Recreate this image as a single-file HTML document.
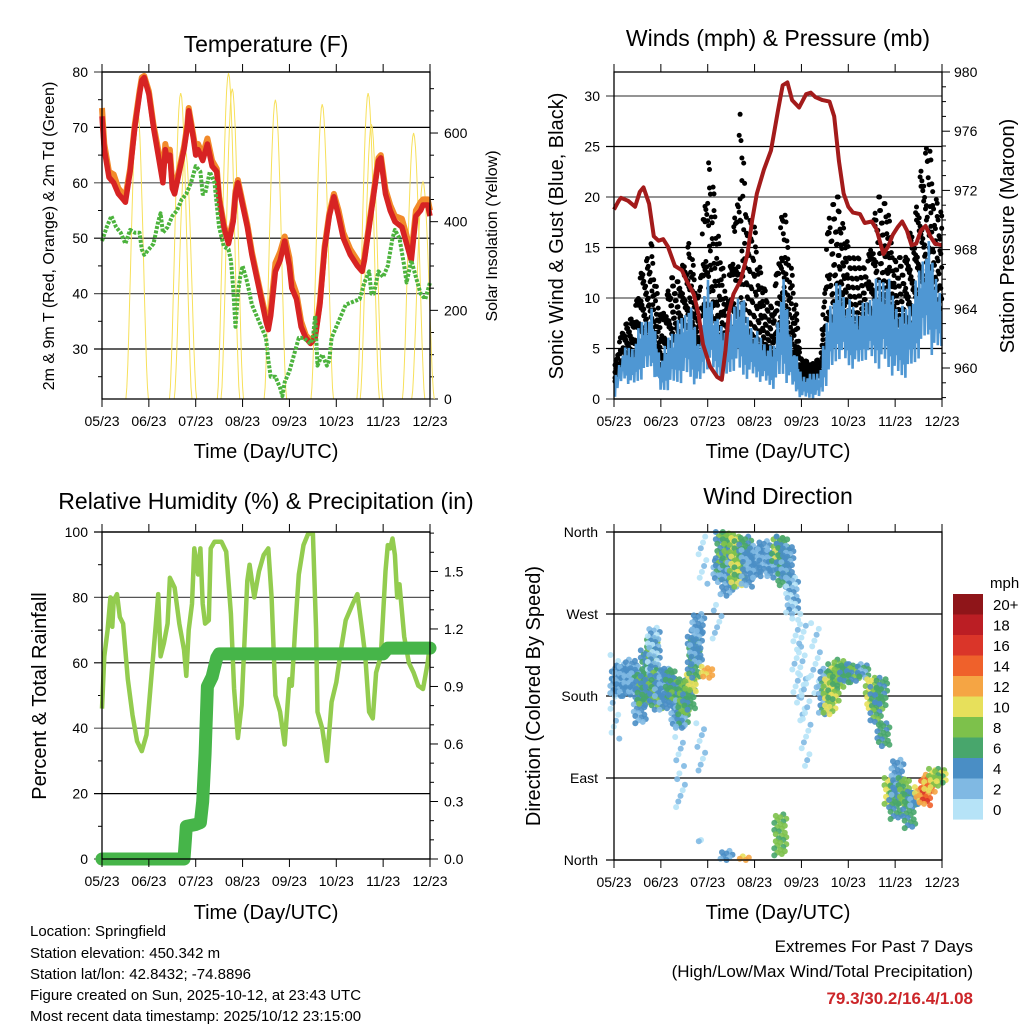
<!DOCTYPE html>
<html><head><meta charset="utf-8"><style>
html,body{margin:0;padding:0;background:#fff;}
svg{display:block;font-family:"Liberation Sans",sans-serif;}
</style></head><body>
<svg id="chart" width="1024" height="1024" viewBox="0 0 1024 1024" xmlns="http://www.w3.org/2000/svg">
<rect x="0" y="0" width="1024" height="1024" fill="#fff"/>
<g id="layer"></g>
<text x="266" y="52" font-size="23" text-anchor="middle">Temperature (F)</text>
<text x="778" y="46" font-size="23" text-anchor="middle">Winds (mph) &amp; Pressure (mb)</text>
<text x="266" y="509" font-size="23" text-anchor="middle">Relative Humidity (%) &amp; Precipitation (in)</text>
<text x="778" y="504" font-size="23" text-anchor="middle">Wind Direction</text>
<text x="266" y="458" font-size="20" text-anchor="middle">Time (Day/UTC)</text>
<text x="778" y="458" font-size="20" text-anchor="middle">Time (Day/UTC)</text>
<text x="266" y="919" font-size="20" text-anchor="middle">Time (Day/UTC)</text>
<text x="778" y="919" font-size="20" text-anchor="middle">Time (Day/UTC)</text>
<text transform="translate(54,236) rotate(-90)" font-size="16" text-anchor="middle">2m &amp; 9m T (Red, Orange) &amp; 2m Td (Green)</text>
<text transform="translate(497,236) rotate(-90)" font-size="16" text-anchor="middle">Solar Insolation (Yellow)</text>
<text transform="translate(563,236) rotate(-90)" font-size="20" text-anchor="middle">Sonic Wind &amp; Gust (Blue, Black)</text>
<text transform="translate(1014,236) rotate(-90)" font-size="20" text-anchor="middle">Station Pressure (Maroon)</text>
<text transform="translate(46,696) rotate(-90)" font-size="20" text-anchor="middle">Percent &amp; Total Rainfall</text>
<text transform="translate(540,696) rotate(-90)" font-size="20" text-anchor="middle">Direction (Colored By Speed)</text>
<g font-size="15">
<text x="30" y="936">Location: Springfield</text>
<text x="30" y="958">Station elevation: 450.342 m</text>
<text x="30" y="979">Station lat/lon: 42.8432; -74.8896</text>
<text x="30" y="1000">Figure created on Sun, 2025-10-12, at 23:43 UTC</text>
<text x="30" y="1021">Most recent data timestamp: 2025/10/12 23:15:00</text>
</g>
<text x="973" y="952" font-size="17" text-anchor="end">Extremes For Past 7 Days</text>
<text x="973" y="977" font-size="17" text-anchor="end">(High/Low/Max Wind/Total Precipitation)</text>
<text x="973" y="1004" font-size="17" font-weight="bold" fill="#cc2529" text-anchor="end">79.3/30.2/16.4/1.08</text>
<text x="990" y="588" font-size="15">mph</text>
</svg>
<script>
// ---------- data ----------
const monthLabels = ["05/23","06/23","07/23","08/23","09/23","10/23","11/23","12/23"];
const tempT = [0,0.05,0.15,0.25,0.35,0.45,0.5,0.6,0.7,0.8,0.85,0.9,1.0,1.1,1.2,1.3,1.35,1.4,1.45,1.5,1.55,1.65,1.75,1.82,1.85,1.95,2.0,2.05,2.15,2.25,2.35,2.45,2.5,2.6,2.7,2.8,2.85,2.9,3.0,3.1,3.2,3.3,3.4,3.5,3.55,3.6,3.7,3.8,3.9,4.0,4.05,4.15,4.25,4.35,4.45,4.55,4.65,4.75,4.85,4.95,5.05,5.15,5.3,5.45,5.55,5.6,5.7,5.8,5.9,5.95,6.05,6.15,6.25,6.4,6.5,6.6,6.7,6.8,6.85,6.95,7.0];
const tempRed = [72,66,61,60,58,57,56.5,62,70,76,78.5,79,76,70,65,60,66,64,65,59,58,62,66,70,73,68,65,66,64,67,63,62,57,52,49,53,58,60,56,52,47,43,39,35,33.5,36,44,46,49.5,45,41,39,34,32,31,32,38,48,54,57.5,54,50,47,45,44,46,52,58,64,64.5,58,55,53,52,49,46,54,55,56,56,54];
const tempOrangeOffset = [1.5,1,1,1.5,1,1,1,0.5,0.5,0.5,0.5,0.3,0.5,0.5,1,1,1,1,1,1,1,0.5,0.5,0.5,0.5,0.5,1,1,1,1,1,0.5,0.5,0.5,0.5,0.5,0.5,0.5,0.5,0.5,0.5,0.5,0.5,0.8,1,1,1.5,1.5,0.8,1.5,1.5,1,1,0.5,0.5,0.5,0.5,0.5,0.5,0.5,1,1,1,1,0.5,0.5,0.5,0.5,0.5,0.5,0.8,1,1,1.5,1.5,1,1,1.5,1,1,1];
const tdT = [0,0.1,0.2,0.3,0.4,0.5,0.6,0.7,0.8,0.85,0.9,1.0,1.1,1.2,1.25,1.3,1.4,1.5,1.6,1.7,1.8,1.9,2.0,2.1,2.15,2.2,2.3,2.4,2.5,2.6,2.7,2.75,2.8,2.85,2.9,2.95,3.0,3.1,3.2,3.3,3.4,3.5,3.55,3.6,3.7,3.8,3.85,3.9,4.0,4.1,4.2,4.3,4.45,4.5,4.55,4.6,4.7,4.8,4.85,4.9,5.0,5.1,5.2,5.35,5.5,5.6,5.7,5.75,5.8,5.9,6.0,6.1,6.2,6.25,6.35,6.45,6.5,6.6,6.7,6.8,6.9,7.0];
const tdVal = [49.5,52,54,52,51,49,51.5,51,51,48,47,48,49,53,54.5,51,52,54,55,57,58,60,63,62,58,58,62,60,52,48.5,48,46,41,34,40,43,45,42,38,36,34,32,28,25,25,23,21.5,24,26,29,32,32,31,32,36,27,29,27,28,32,34,36,38,38.5,39,42,44,40,40,44,43,45,50,51.5,50,45,42,46,43,40,39,42];
const solarPeakT = [0.75,1.68,1.78,2.7,2.78,3.7,4.7,5.68,5.75,6.65,6.85];
const solarPeakV = [665,690,560,735,700,675,665,690,620,600,490];
const pressT = [0,0.1,0.15,0.3,0.45,0.55,0.63,0.75,0.85,0.95,1.05,1.15,1.3,1.45,1.55,1.7,1.8,1.9,2.05,2.2,2.3,2.38,2.45,2.55,2.7,2.85,2.95,3.05,3.2,3.35,3.5,3.6,3.7,3.8,3.95,4.1,4.2,4.3,4.45,4.6,4.7,4.8,4.9,5.0,5.1,5.25,5.35,5.5,5.6,5.75,5.85,5.95,6.05,6.15,6.25,6.35,6.45,6.55,6.65,6.75,6.85,7.0];
const pressVal = [970.7,971.3,971.5,971.3,970.9,971.9,972.2,971.1,968.9,968.6,968.7,968.2,966.9,966.6,965.9,965.0,963.7,961.6,960.1,959.4,959.2,961.2,963.7,965.0,965.9,967.7,970.0,971.8,973.4,974.7,977.4,979.1,979.3,978.1,977.6,978.5,978.6,978.3,978.1,978.0,977.0,974.0,971.8,970.9,970.5,970.4,969.8,969.9,969.4,967.7,968.2,969.0,969.5,969.9,969.3,968.3,968.4,969.3,969.6,968.9,968.4,968.3];
const windT = [0,0.2,0.4,0.6,0.8,1.0,1.2,1.4,1.6,1.8,2.0,2.2,2.4,2.6,2.7,2.8,3.0,3.2,3.4,3.6,3.8,4.0,4.2,4.4,4.6,4.8,5.0,5.2,5.4,5.6,5.8,6.0,6.2,6.4,6.6,6.7,6.8,7.0];
const windLow = [0,2,1,2,3,0.5,1,1.5,2,1,3,2,2,3,2,2,2,1.5,1,2,1,0,0,0,2,4,3,3,4,3,3,2,2,3,5,6,4,5];
const windHigh = [2,5,5.5,8,9,4,7,8,10,6,12.5,8,7,10,12,9,7,6,5,12.5,6,2.5,2.5,3,10,12,10,9,10,12,13,10,9,11,15,16,14,11];
const gustHigh = [3,7.5,8,13,15.5,8,12,12,16,10,25,18,10,19,30.5,20,17,11,9,20,13,4,3.5,4,20,20,15,14,13,20,20,14,14,18,24,26.5,22,18];
const rhT = [0,0.05,0.12,0.18,0.22,0.25,0.32,0.38,0.45,0.55,0.65,0.75,0.85,0.95,1.05,1.15,1.2,1.25,1.32,1.4,1.45,1.55,1.65,1.75,1.8,1.85,1.92,1.97,2.05,2.1,2.15,2.2,2.28,2.32,2.4,2.55,2.65,2.75,2.82,2.9,2.98,3.02,3.1,3.15,3.25,3.35,3.45,3.55,3.62,3.7,3.8,3.9,4.0,4.05,4.12,4.2,4.3,4.4,4.5,4.57,4.6,4.7,4.8,4.9,5.0,5.1,5.2,5.35,5.45,5.55,5.62,5.7,5.78,5.85,5.95,6.05,6.1,6.15,6.2,6.25,6.3,6.35,6.45,6.55,6.65,6.75,6.85,6.95,7.0];
const rhVal = [46,62,70,80,71,79,81,74,72,55,44,36,33,38,55,72,81,62,66,72,86,83,72,64,56,70,78,95,87,95,78,72,73,95,97,97,94,75,52,37,47,60,85,90,80,88,93,95,80,50,45,35,55,53,70,87,96,99.5,99.5,70,45,40,30,48,54,64,73,78,81,70,62,45,43,57,62,88,96,95,98,93,80,84,68,60,57,53,52,60,66];
const precipT = [0,1.75,1.78,1.8,2.0,2.1,2.15,2.2,2.25,2.35,2.45,2.5,6.0,6.1,7.0];
const precipVal = [0,0,0.1,0.17,0.18,0.19,0.3,0.55,0.9,0.95,1.05,1.07,1.07,1.1,1.1];
const dirT = [0.02,0.05,0.15,0.25,0.35,0.45,0.5,0.55,0.6,0.7,0.8,0.85,0.9,1.0,1.1,1.2,1.3,1.35,1.4,1.42,1.45,1.5,1.6,1.65,1.7,1.75,1.8,1.85,1.88,1.9,2.0,2.2,2.25,2.3,2.4,2.4,2.45,2.55,2.6,2.7,2.78,2.8,2.85,3.0,3.2,3.4,3.5,3.55,3.6,3.7,3.8,3.9,4.0,4.1,4.3,4.5,4.6,4.7,4.8,4.95,5.1,5.3,5.5,5.6,5.7,5.75,5.9,6.0,6.05,6.2,6.3,6.45,6.55,6.65,6.75,6.85,6.95];
const dirLo = [130,180,185,180,185,185,188,150,170,175,190,200,165,180,165,175,170,145,100,55,145,160,165,185,200,215,250,95,20,300,200,240,305,320,290,0,320,300,300,310,0,330,300,310,315,310,325,5,300,310,270,175,150,100,180,160,160,175,190,195,195,200,165,150,170,125,60,45,70,60,35,60,65,60,75,80,85];
const dirHi = [225,210,215,212,220,212,205,190,205,230,245,255,210,205,210,210,200,170,135,95,185,195,200,205,245,255,270,150,22,355,212,280,330,360,340,10,360,345,355,350,4,355,340,345,350,340,355,50,355,345,310,265,270,200,260,210,200,215,220,215,215,215,200,190,200,150,90,85,110,90,75,75,80,90,95,100,100];
const dirSpd = [1,4,4,4,4,4,5,4,7,6,7,3,7,4,4,6,7,4,2,2,5,8,6,10,6,4,4,2,2,1,12,2,5,7,4,4,8,4,10,9,12,6,4,4,4,4,9,8,6,4,3,1,1,1,1,5,10,9,8,6,7,5,10,7,6,6,10,6,4,8,6,4,12,15,13,10,9];
const cbLabels = ["20+","18","16","14","12","10","8","6","4","2","0"];
const cbColors = ["#8f1519","#bb1e24","#da3529","#ef612b","#f5a544","#e7e05b","#7dc14b","#48a66c","#4a8ec5","#80b9e3","#b6e3f7"];

const NS = "http://www.w3.org/2000/svg";
const layer = document.getElementById("layer");
function mk(tag, attrs, parent) {
  const el = document.createElementNS(NS, tag);
  for (const k in attrs) el.setAttribute(k, attrs[k]);
  (parent || layer).appendChild(el);
  return el;
}
function interp(ts, vs, t) {
  if (t <= ts[0]) return vs[0];
  for (let i = 1; i < ts.length; i++) {
    if (t <= ts[i]) { const f = (t - ts[i-1]) / (ts[i] - ts[i-1]); return vs[i-1] + f * (vs[i] - vs[i-1]); }
  }
  return vs[vs.length - 1];
}
function pathFrom(ts, vs, xf, yf) {
  return ts.map((t, i) => (i ? "L" : "M") + xf(t).toFixed(1) + "," + yf(vs[i]).toFixed(1)).join("");
}
function frame(x0, y0, x1, y1, name) {
  const r = mk("rect", {x:x0, y:y0, width:x1-x0, height:y1-y0, fill:"none", stroke:"#000", "stroke-width":1.3});
  
  
}
function xTicks(x0, x1, yTop, yBot, name) {
  monthLabels.forEach((lab, i) => {
    const x = x0 + i * (x1 - x0) / 7;
    const t1 = mk("line", {x1:x, y1:yBot, x2:x, y2:yBot+8, stroke:"#000", "stroke-width":1});
    
    
    const t2 = mk("line", {x1:x, y1:yTop, x2:x, y2:yTop-8, stroke:"#000", "stroke-width":1});
    
    
    const tx = mk("text", {x:x, y:yBot+27, "font-size":14, "text-anchor":"middle"});
    tx.textContent = lab;
    
    
  });
}
function hGrid(x0, x1, y, color, name) {
  const l = mk("line", {x1:x0-8, y1:y, x2:x1, y2:y, stroke:color, "stroke-width":1.2});
  
  
}
function label(x, y, txt, anchor, size, name) {
  const t = mk("text", {x:x, y:y, "font-size":size, "text-anchor":anchor});
  t.textContent = txt;
  
  
}
function sideTick(x, y, len, name) {
  const l = mk("line", {x1:x, y1:y, x2:x+len, y2:y, stroke:"#000", "stroke-width":1});
  
  
}

// Panel 1
const p1 = {x0:102, x1:430, y0:72, y1:399};
const x1f = t => p1.x0 + t / 7 * (p1.x1 - p1.x0);
const yT = v => p1.y0 + (80 - v) * 5.54;
const yS = v => p1.y1 - v * 0.4433;
[30,40,50,60,70,80].forEach((v, i) => {
  hGrid(p1.x0, p1.x1, yT(v), i % 2 ? "#555" : "#000", "temp-gridline");
  label(p1.x0 - 14, yT(v) + 5, String(v), "end", 14, "temp-y-tick-label");
});
[25,35,45,55,65,75].forEach(v => sideTick(p1.x0 - 4, yT(v), 4, "temp-minor-tick"));
for (let v = 0; v <= 700; v += 50) sideTick(p1.x1, yS(v), v % 200 === 0 ? 8 : 4, "solar-tick");
[0,200,400,600].forEach(v => label(p1.x1 + 14, yS(v) + 5, String(v), "start", 14, "solar-tick-label"));
solarPeakT.forEach((pt, i) => {
  let d = "";
  for (let k = 0; k <= 24; k++) {
    const u = k / 24;
    const t = pt - 0.24 + u * 0.48;
    const v = solarPeakV[i] * Math.pow(Math.sin(Math.PI * u), 1.6);
    d += (k ? "L" : "M") + x1f(t).toFixed(1) + "," + yS(v).toFixed(1);
  }
  const p = mk("path", {d:d, fill:"none", stroke:"#f7e05a", "stroke-width":1});
  
  
});
const orangeVals = tempRed.map((v, i) => v + tempOrangeOffset[i]);
const orangeLine = mk("path", {d:pathFrom(tempT, orangeVals, x1f, yT), fill:"none", stroke:"#f28a2a", "stroke-width":6, "stroke-linejoin":"round"});


const redLine = mk("path", {d:pathFrom(tempT, tempRed, x1f, yT), fill:"none", stroke:"#d72323", "stroke-width":5.5, "stroke-linejoin":"round"});


const tdLine = mk("path", {d:pathFrom(tdT, tdVal, x1f, yT), fill:"none", stroke:"#4cb33d", "stroke-width":4, "stroke-dasharray":"3 1.5", "stroke-linejoin":"round"});


frame(p1.x0, p1.y0, p1.x1, p1.y1, "temperature-plot-frame");
xTicks(p1.x0, p1.x1, p1.y0, p1.y1, "temp-x");

// Panel 2
const p2 = {x0:614, x1:942, y0:72, y1:399};
const x2f = t => p2.x0 + t / 7 * (p2.x1 - p2.x0);
const yW = v => p2.y1 - v * 10.1;
const yP = p => p2.y0 + (980 - p) * 14.8;
[0,5,10,15,20,25,30].forEach((v, i) => {
  hGrid(p2.x0, p2.x1, yW(v), i % 2 ? "#000" : "#555", "wind-gridline");
  label(p2.x0 - 14, yW(v) + 5, String(v), "end", 14, "wind-y-tick-label");
});
for (let p = 958; p <= 980; p += 1) sideTick(p2.x1, yP(p), p % 4 === 0 ? 8 : 4, "pressure-tick");
[980,976,972,968,964,960].forEach(p => label(p2.x1 + 12, yP(p) + 5, String(p), "start", 14, "pressure-tick-label"));
{
  const g = mk("g", {fill:"#000"});
  
  
  let i = 0;
  for (let x = p2.x0 + 1; x < p2.x1; x += 0.9, i++) {
    const t = (x - p2.x0) / (p2.x1 - p2.x0) * 7;
    const lo = interp(windT, windHigh, t) * 0.75;
    const hi = interp(windT, gustHigh, t);
    for (let k = 0; k < 4; k++) {
      const f = ((i * 37 + k * 53) % 23) / 22;
      const v = lo + (hi - lo) * Math.pow(f, 1.4);
      const c = mk("circle", {cx:x.toFixed(1), cy:yW(v).toFixed(1), r:2.5}, g);
      
      
    }
  }
}
{
  let d = "", i = 0;
  for (let x = p2.x0 + 1; x < p2.x1; x += 0.6, i++) {
    const t = (x - p2.x0) / (p2.x1 - p2.x0) * 7;
    const lo = interp(windT, windLow, t), hi = interp(windT, windHigh, t);
    const f = ((i * 53) % 11) / 10;
    const v = i % 2 ? lo + (hi - lo) * (0.4 + 0.6 * f) : lo + (hi - lo) * 0.5 * f;
    d += (i ? "L" : "M") + x.toFixed(1) + "," + yW(v).toFixed(1);
  }
  const w = mk("path", {d:d, fill:"none", stroke:"#4f97d3", "stroke-width":2.6});
  
  
}
const pLine = mk("path", {d:pathFrom(pressT, pressVal, x2f, yP), fill:"none", stroke:"#a31b1b", "stroke-width":4, "stroke-linejoin":"round"});


frame(p2.x0, p2.y0, p2.x1, p2.y1, "wind-plot-frame");
xTicks(p2.x0, p2.x1, p2.y0, p2.y1, "wind-x");

// Panel 3
const p3 = {x0:102, x1:430, y0:532, y1:859};
const x3f = t => p3.x0 + t / 7 * (p3.x1 - p3.x0);
const yRH = v => p3.y1 - v * 3.27;
const yPr = v => p3.y1 - v * 191.7;
[0,20,40,60,80,100].forEach((v, i) => {
  hGrid(p3.x0, p3.x1, yRH(v), i % 2 ? "#000" : "#555", "rh-gridline");
  label(p3.x0 - 14, yRH(v) + 5, String(v), "end", 14, "rh-y-tick-label");
});
[10,30,50,70,90].forEach(v => sideTick(p3.x0 - 4, yRH(v), 4, "rh-minor-tick"));
for (let k = 0; k <= 17; k++) sideTick(p3.x1, yPr(k / 10), k % 3 === 0 ? 8 : 4, "precip-tick");
["0.0","0.3","0.6","0.9","1.2","1.5"].forEach(s => label(p3.x1 + 14, yPr(parseFloat(s)) + 5, s, "start", 14, "precip-tick-label"));
const rhLine = mk("path", {d:pathFrom(rhT, rhVal, x3f, yRH), fill:"none", stroke:"#93cc4f", "stroke-width":4.5, "stroke-linejoin":"round"});


const prLine = mk("path", {d:pathFrom(precipT, precipVal, x3f, yPr), fill:"none", stroke:"#46b549", "stroke-width":13, "stroke-linejoin":"round", "stroke-linecap":"round"});


frame(p3.x0, p3.y0, p3.x1, p3.y1, "rh-plot-frame");
xTicks(p3.x0, p3.x1, p3.y0, p3.y1, "rh-x");

// Panel 4
const p4 = {x0:614, x1:942, y0:532, y1:860};
const x4f = t => p4.x0 + t / 7 * (p4.x1 - p4.x0);
const yD = d => p4.y1 - d * (p4.y1 - p4.y0) / 360;
["North","East","South","West","North"].forEach((s, i) => {
  hGrid(p4.x0, p4.x1, yD(i * 90), "#000", "direction-gridline");
  label(p4.x0 - 16, yD(i * 90) + 5, s, "end", 14, "direction-tick-label");
});
function spdColor(s) { const idx = Math.max(0, Math.min(10, Math.floor(s / 2))); return cbColors[10 - idx]; }
{
  const g = mk("g", {});
  
  
  dirT.forEach((t, i) => {
    const x = x4f(t);
    const ya = yD(dirHi[i]), yb = yD(dirLo[i]);
    const light = dirSpd[i] < 3;
    const n = Math.max(1, Math.round((yb - ya) / (light ? 6 : 3)));
    const reps = light ? 1 : 2;
    for (let k = 0; k <= n; k++) {
      for (let m = 0; m < reps; m++) {
        const y = ya + (yb - ya) * ((k + m * 0.5) / (n + 0.5));
        const dx = (((k * 7 + i * 3 + m * 4) % 9) - 4) * (light ? 1.1 : 1.5);
        const c = mk("circle", {cx:(x + dx).toFixed(1), cy:y.toFixed(1), r:3, fill:spdColor(dirSpd[i] + (((k + m) % 3) - 1) * 1.5), "fill-opacity":0.9}, g);
        
        
      }
    }
  });
}
frame(p4.x0, p4.y0, p4.x1, p4.y1, "direction-plot-frame");
xTicks(p4.x0, p4.x1, p4.y0, p4.y1, "dir-x");
cbColors.forEach((c, i) => {
  const r = mk("rect", {x:953, y:594 + i * 20.5, width:30, height:20.6, fill:c});
  
  
  label(993, 594 + i * 20.5 + 16, cbLabels[i], "start", 15, "colorbar-label");
});
</script>
</body></html>
